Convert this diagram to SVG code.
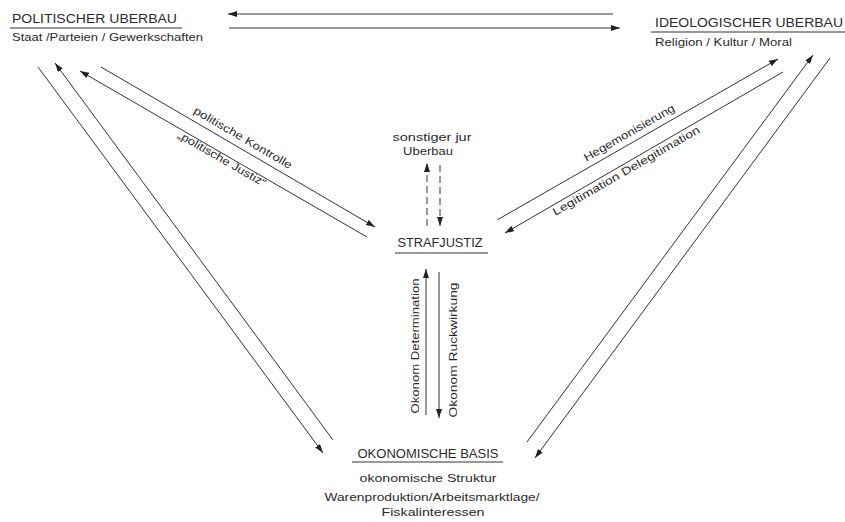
<svg xmlns="http://www.w3.org/2000/svg" width="845" height="522" viewBox="0 0 845 522">
<defs>
<style>
.t{font-family:"Liberation Sans","DejaVu Sans",sans-serif;fill:#2a2a2a;}
.h{font-size:12.5px;}
.s{font-size:11.5px;}
.l{font-size:11px;}
.ln{stroke:#333;stroke-width:1;fill:none;}
.ul{stroke:#333;stroke-width:1.1;}
.d{stroke-dasharray:7 4;}
</style>
<marker id="ah" markerUnits="userSpaceOnUse" markerWidth="10" markerHeight="6" refX="9" refY="3" orient="auto">
<path d="M0,0 L9,3 L0,6 Z" fill="#222"/>
</marker>
</defs>
<rect width="845" height="522" fill="#fff"/>

<g id="politischer-ueberbau">
<text class="t h" x="12" y="23" textLength="165" lengthAdjust="spacingAndGlyphs">POLITISCHER  UBERBAU</text>
<line class="ul" x1="10" y1="28" x2="182" y2="28"/>
<text class="t s" x="12" y="41" textLength="191" lengthAdjust="spacingAndGlyphs">Staat /Parteien / Gewerkschaften</text>
</g>

<g id="ideologischer-ueberbau">
<text class="t h" x="655" y="27" textLength="188" lengthAdjust="spacingAndGlyphs">IDEOLOGISCHER  UBERBAU</text>
<line class="ul" x1="651" y1="32" x2="845" y2="32"/>
<text class="t s" x="655" y="46" textLength="137" lengthAdjust="spacingAndGlyphs">Religion / Kultur / Moral</text>
</g>

<g id="sonstiger-ueberbau">
<text class="t s" x="432" y="141" text-anchor="middle" textLength="79" lengthAdjust="spacingAndGlyphs">sonstiger jur</text>
<text class="t s" x="428" y="155" text-anchor="middle" textLength="50" lengthAdjust="spacingAndGlyphs">Uberbau</text>
</g>

<g id="strafjustiz">
<text class="t h" x="440" y="247" text-anchor="middle" textLength="85" lengthAdjust="spacingAndGlyphs">STRAFJUSTIZ</text>
<line class="ul" x1="395" y1="253" x2="488" y2="253"/>
</g>

<g id="oekonomische-basis">
<text class="t h" x="428" y="458" text-anchor="middle" textLength="141" lengthAdjust="spacingAndGlyphs">OKONOMISCHE  BASIS</text>
<line class="ul" x1="352" y1="462" x2="503" y2="462"/>
<text class="t s" x="428" y="482" text-anchor="middle" textLength="137" lengthAdjust="spacingAndGlyphs">okonomische Struktur</text>
<text class="t s" x="432" y="501" text-anchor="middle" textLength="215" lengthAdjust="spacingAndGlyphs">Warenproduktion/Arbeitsmarktlage/</text>
<text class="t s" x="433" y="516" text-anchor="middle" textLength="103" lengthAdjust="spacingAndGlyphs">Fiskalinteressen</text>
</g>

<g id="connectors">
<!-- top pair -->
<line class="ln" x1="613" y1="14" x2="228" y2="14" marker-end="url(#ah)"/>
<line class="ln" x1="229" y1="28" x2="620" y2="28" marker-end="url(#ah)"/>
<!-- left long pair -->
<line class="ln" x1="38" y1="67" x2="323" y2="453" marker-end="url(#ah)"/>
<line class="ln" x1="333" y1="440" x2="55" y2="63" marker-end="url(#ah)"/>
<!-- right long pair -->
<line class="ln" x1="527" y1="442" x2="813" y2="55" marker-end="url(#ah)"/>
<line class="ln" x1="830" y1="58" x2="535" y2="458" marker-end="url(#ah)"/>
<!-- politisch - strafjustiz -->
<line class="ln" x1="101" y1="67" x2="375" y2="227" marker-end="url(#ah)"/>
<line class="ln" x1="367" y1="237" x2="80" y2="71" marker-end="url(#ah)"/>
<!-- strafjustiz - ideologisch -->
<line class="ln" x1="497" y1="220" x2="778" y2="59" marker-end="url(#ah)"/>
<line class="ln" x1="783" y1="72" x2="505" y2="233" marker-end="url(#ah)"/>
<!-- dashed -->
<line class="ln d" x1="427" y1="226" x2="427" y2="163" marker-end="url(#ah)"/>
<line class="ln d" x1="440" y1="165" x2="440" y2="226" marker-end="url(#ah)"/>
<!-- vertical -->
<line class="ln" x1="426" y1="415" x2="426" y2="269" marker-end="url(#ah)"/>
<line class="ln" x1="439" y1="272" x2="439" y2="418" marker-end="url(#ah)"/>

<text class="t l" transform="translate(241,141) rotate(30.3)" text-anchor="middle" textLength="112" lengthAdjust="spacingAndGlyphs">politische Kontrolle</text>
<text class="t l" transform="translate(220,162) rotate(30)" text-anchor="middle" textLength="100" lengthAdjust="spacingAndGlyphs">„politische Justiz“</text>
<text class="t l" transform="translate(631,136) rotate(-30)" text-anchor="middle" textLength="103" lengthAdjust="spacingAndGlyphs">Hegemonisierung</text>
<text class="t l" transform="translate(628,174) rotate(-30)" text-anchor="middle" textLength="168" lengthAdjust="spacingAndGlyphs">Legitimation  Delegitimation</text>
<text class="t l" transform="translate(419,346) rotate(-90)" text-anchor="middle" textLength="135" lengthAdjust="spacingAndGlyphs">Okonom Determination</text>
<text class="t l" transform="translate(457,350) rotate(-90)" text-anchor="middle" textLength="135" lengthAdjust="spacingAndGlyphs">Okonom Ruckwirkung</text>
</g>
</svg>
